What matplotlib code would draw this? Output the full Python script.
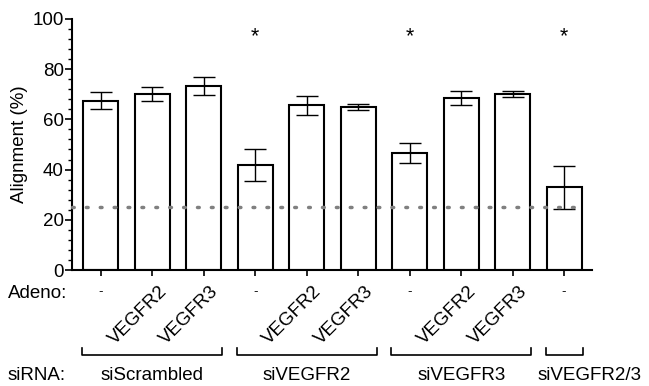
import numpy as np
import matplotlib
matplotlib.use("Agg")
import matplotlib.pyplot as plt
import matplotlib.transforms as mtransforms

plt.rcParams['font.family'] = ['Liberation Sans', 'DejaVu Sans']

# data
adeno = ["-", "VEGFR2", "VEGFR3", "-", "VEGFR2", "VEGFR3", "-", "VEGFR2", "VEGFR3", "-"]
alignment = [67.5, 70.1, 73.3, 41.8, 65.6, 64.8, 46.5, 68.4, 70.1, 32.9]
sem = [3.5, 2.8, 3.7, 6.3, 3.8, 1.2, 3.9, 2.8, 1.3, 8.5]
signif = [False, False, False, True, False, False, True, False, False, True]
groups = ["siScrambled", "siVEGFR2", "siVEGFR3", "siVEGFR2/3"]
group_idx = [[0, 1, 2], [3, 4, 5], [6, 7, 8], [9]]
chance = 25

x = np.arange(len(alignment))
fs = 13.5

fig = plt.figure(figsize=(6.49, 3.86), dpi=100)
ax = fig.add_axes([0.111, 0.3005, 0.801, 0.6505])

ax.bar(x, alignment, width=0.68, color="white", edgecolor="black", linewidth=1.5, zorder=2)
ax.errorbar(x, alignment, yerr=sem, fmt="none", ecolor="black", elinewidth=1.0,
            capsize=8, capthick=1.0, zorder=3)
ax.plot([-0.56, 9.2], [chance, chance], color="#808080", linestyle=(0, (0.5, 3.5)),
        linewidth=2.5, dash_capstyle="round", zorder=4, clip_on=False)

for xi, s in zip(x, signif):
    if s:
        ax.text(xi, 93.0, "*", ha="center", va="center", fontsize=fs + 2)

ax.set_xlim(-0.56, 9.54)
ax.set_ylim(0, 100)
ax.set_yticks(np.arange(0, 101, 20))
ax.set_yticks(np.arange(0, 101, 4), minor=True)
ax.tick_params(axis="y", which="major", length=5, width=1.2, labelsize=fs, pad=1)
ax.tick_params(axis="y", which="minor", length=3, width=1.0)
ax.set_xticks(x)
ax.set_xticklabels([])
ax.tick_params(axis="x", length=4, width=1.2)
ax.set_ylabel("Alignment (%)", fontsize=fs, labelpad=3)
for sp in ["top", "right"]:
    ax.spines[sp].set_visible(False)
for sp in ["left", "bottom"]:
    ax.spines[sp].set_linewidth(1.5)

# x labels below axis
tr = mtransforms.blended_transform_factory(ax.transData, fig.transFigure)
fig.text(0.012, 1 - 293 / 386, "Adeno:", fontsize=fs, va="center", ha="left")
fig.text(0.012, 1 - 375 / 386, "siRNA:", fontsize=fs, va="center", ha="left")
for xi, lab in zip(x, adeno):
    if lab == "-":
        ax.text(xi, 1 - 292 / 386, "-", transform=tr, ha="center", va="center", fontsize=fs - 4)
    else:
        ax.text(xi + 0.12, 1 - 283 / 386, lab, transform=tr, rotation=45, rotation_mode="anchor",
                ha="right", va="top", fontsize=fs)

y_br = 1 - 355 / 386
y_tk = 1 - 348 / 386
for g, idx in zip(groups, group_idx):
    x0 = idx[0] - 0.36
    x1 = idx[-1] + 0.36
    ax.plot([x0, x0, x1, x1], [y_tk, y_br, y_br, y_tk], transform=tr, color="black",
            linewidth=1.2, clip_on=False)
    xc = (x0 + x1) / 2
    if len(idx) == 1:
        # last label is pushed right, as in the original
        xc += 0.5
    ax.text(xc, 1 - 375 / 386, g, transform=tr, ha="center", va="center", fontsize=fs)

fig.savefig("out.png", dpi=100)
